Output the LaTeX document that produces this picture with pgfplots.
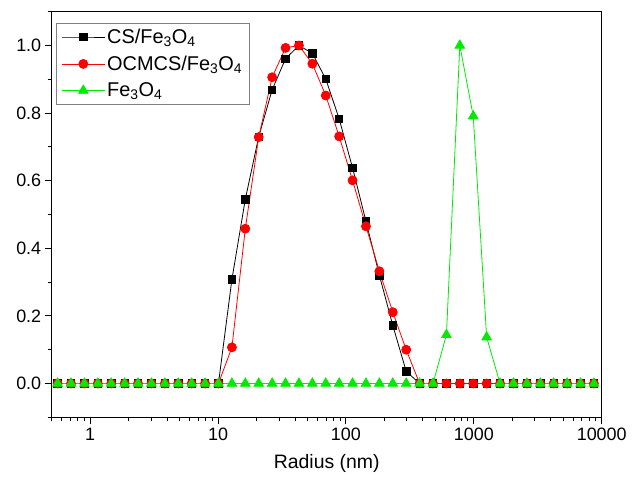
\documentclass[border=0pt]{standalone}
\usepackage{pgfplots}
\pgfplotsset{compat=1.18}
\usepackage{pgfplotstable}
\usepackage{fontspec}
\setmainfont{Liberation Sans}
\definecolor{fegreen}{RGB}{0,235,0}

% size distributions (log-spaced radius grid)
\pgfplotstableread{
x      cs     ocmcs  fe
0.556  0      0      0
0.708  0      0      0
0.901  0      0      0
1.147  0      0      0
1.460  0      0      0
1.859  0      0      0
2.366  0      0      0
3.013  0      0      0
3.836  0      0      0
4.883  0      0      0
6.217  0      0      0
7.914  0      0      0
10.07  0      0      0
12.83  0.308  0.107  0
16.33  0.545  0.458  0
20.79  0.730  0.729  0
26.47  0.869  0.906  0
33.70  0.961  0.993  0
42.89  1.000  1.000  0
54.61  0.977  0.946  0
69.51  0.901  0.852  0
88.50  0.783  0.731  0
112.6  0.638  0.601  0
143.4  0.480  0.465  0
182.6  0.320  0.332  0
232.4  0.172  0.211  0
295.9  0.036  0.100  0
376.7  0      0      0
479.5  0      0      0
610.5  0      0      0.144
777.2  0      0      1.000
989.5  0      0      0.791
1259.7 0      0      0.137
1603.6 0      0      0
2041.5 0      0      0
2598.9 0      0      0
3308.6 0      0      0
4212   0      0      0
5362   0      0      0
6826   0      0      0
8690   0      0      0
}\dls

\begin{document}
\begin{tikzpicture}
\begin{axis}[
    scale only axis,
    width=550bp, height=405.6bp,
    xmode=log,
    xmin=0.5, xmax=10000,
    ymin=-0.1, ymax=1.1,
    xtick={1,10,100,1000,10000},
    xticklabels={1,10,100,1000,10000},
    minor xtick={0.5,0.6,0.7,0.8,0.9,2,3,4,5,6,7,8,9,20,30,40,50,60,70,80,90,
        200,300,400,500,600,700,800,900,2000,3000,4000,5000,6000,7000,8000,9000},
    ytick={0,0.2,0.4,0.6,0.8,1.0},
    minor ytick={-0.1,0.1,0.3,0.5,0.7,0.9,1.1},
    yticklabel style={/pgf/number format/.cd, fixed, fixed zerofill, precision=1},
    /pgf/number format/assume math mode=true,
    tick pos=left,
    tick align=outside,
    major tick length=7bp,
    minor tick length=4bp,
    tick style={black, line width=1bp},
    axis line style={line width=1.3bp},
    ticklabel style={font=\fontsize{18}{21}\selectfont},
    xlabel={Radius (nm)},
    xlabel style={font=\fontsize{19.5}{23}\selectfont, at={(axis description cs:0.5,-0.1134)}, anchor=center},
    legend image code/.code={
        \draw[mark repeat=2, mark phase=2] plot coordinates {(0bp,0bp) (21.5bp,0bp) (43bp,0bp)};
    },
    legend style={at={(0.0078,0.973)}, anchor=north west, draw=gray, line width=0.8bp,
        font=\fontsize{20}{24}\selectfont, inner xsep=5bp, inner ysep=4bp, row sep=7bp},
    legend cell align=left,
]
\addplot[black, line width=0.8bp, mark=square*, mark size=3.7bp] table[x=x, y=cs] {\dls};
\addplot[red, line width=0.8bp, mark=*, mark size=4.5bp] table[x=x, y=ocmcs] {\dls};
\addplot[fegreen, line width=0.8bp, mark=triangle*, mark size=5.5bp] table[x=x, y=fe] {\dls};
\legend{CS/Fe\textsubscript{3}O\textsubscript{4}, OCMCS/Fe\textsubscript{3}O\textsubscript{4}, Fe\textsubscript{3}O\textsubscript{4}}
\end{axis}
\path ([xshift=-51.7bp, yshift=-62.7bp]current axis.south west) rectangle ++(632bp,480bp);
\end{tikzpicture}
\end{document}
